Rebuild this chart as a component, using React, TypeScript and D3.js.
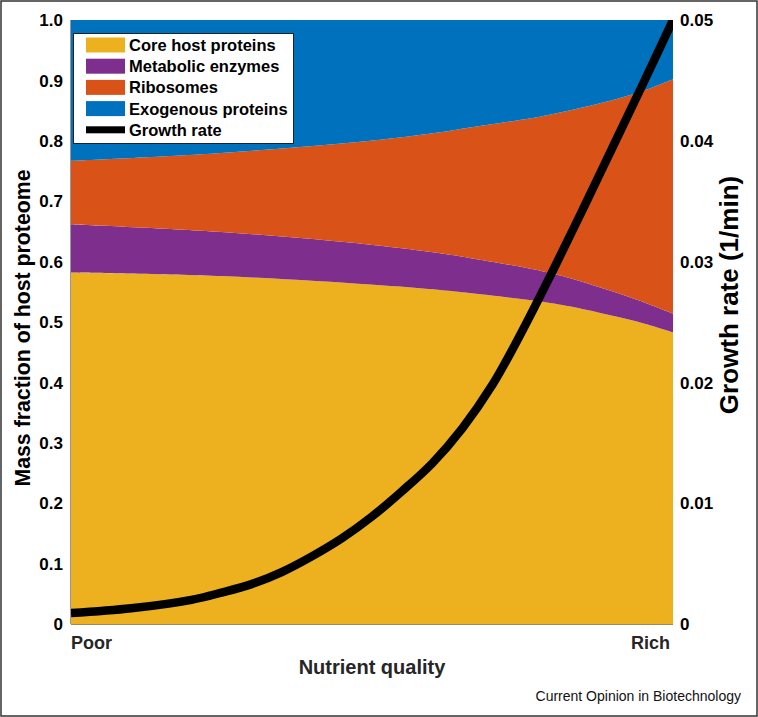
import React from "react";
import * as d3 from "d3";

// Nutrient quality, 0 = Poor, 1 = Rich
const coreX = [0, 0.25, 0.497, 0.613, 0.662, 0.779, 0.828, 0.879, 0.94, 1];
const coreTop = [0.582, 0.576, 0.562, 0.553, 0.548, 0.534, 0.526, 0.515, 0.501, 0.483];
const metabolicTop = [0.662, 0.649, 0.628, 0.614, 0.606, 0.585, 0.573, 0.557, 0.537, 0.514];
const ribosomeTop = [0.767, 0.78, 0.8, 0.814, 0.822, 0.84, 0.85, 0.862, 0.879, 0.902];
const exogenousTop = [1, 1, 1, 1, 1, 1, 1, 1, 1, 1];

const growthX = [0, 0.1, 0.2, 0.25, 0.3, 0.35, 0.4, 0.45, 0.5, 0.55, 0.6, 0.65, 0.7, 0.75, 0.8, 0.85, 0.9, 0.95, 1];
const growthRate = [0.0009, 0.0013, 0.002, 0.0026, 0.0033, 0.0043, 0.0056, 0.0071, 0.0089, 0.011, 0.0133, 0.0162, 0.0198, 0.0243, 0.0292, 0.0343, 0.0395, 0.0447, 0.05];

const leftTicks = [0, 0.1, 0.2, 0.3, 0.4, 0.5, 0.6, 0.7, 0.8, 0.9, 1.0];
const leftTickLabels = ["0", "0.1", "0.2", "0.3", "0.4", "0.5", "0.6", "0.7", "0.8", "0.9", "1.0"];
const rightTicks = [0, 0.01, 0.02, 0.03, 0.04, 0.05];
const rightTickLabels = ["0", "0.01", "0.02", "0.03", "0.04", "0.05"];

const seriesNames = ["Core host proteins", "Metabolic enzymes", "Ribosomes", "Exogenous proteins"];
const seriesColors = ["#EDB120", "#7E2F8E", "#D95319", "#0072BD"];

const W = 758;
const H = 717;
const PL = 71, PR = 673, PT = 20, PB = 624;
const FONT = "'Liberation Sans', Arial, Helvetica, sans-serif";

export default function App() {
  const x = d3.scaleLinear().domain([0, 1]).range([PL, PR]);
  const yL = d3.scaleLinear().domain([0, 1]).range([PB, PT]);
  const yR = d3.scaleLinear().domain([0, 0.05]).range([PB, PT]);

  const tops = [coreTop, metabolicTop, ribosomeTop, exogenousTop];
  const bottoms = [coreX.map(() => 0), coreTop, metabolicTop, ribosomeTop];

  const areas = tops.map((top, s) => {
    const pts = coreX.map((xv, i) => ({ x: xv, y0: bottoms[s][i], y1: top[i] }));
    return d3
      .area<{ x: number; y0: number; y1: number }>()
      .x((d) => x(d.x))
      .y0((d) => yL(d.y0))
      .y1((d) => yL(d.y1))
      .curve(d3.curveCatmullRom.alpha(0.5))(pts) as string;
  });

  const growthPath = d3
    .line<number>()
    .x((_, i) => x(growthX[i]))
    .y((d) => yR(d))
    .curve(d3.curveCatmullRom.alpha(0.5))(growthRate) as string;

  const legendRows = [...seriesNames, "Growth rate"];

  return (
    <svg
      width={W}
      height={H}
      style={{ position: "absolute", left: 0, top: 0, background: "#fff" }}
      fontFamily={FONT}
    >
      <rect x={0} y={0} width={W} height={H} fill="#fff" />
      <defs>
        <clipPath id="plotclip">
          <rect x={PL} y={PT} width={PR - PL} height={PB - PT} />
        </clipPath>
      </defs>
      {areas.map((d, i) => (
        <path key={i} d={d} fill={seriesColors[i]} />
      ))}
      <line x1={PL} x2={PR} y1={PB + 0.5} y2={PB + 0.5} stroke="#9a8a60" strokeWidth={1} />
      <line x1={PL - 0.5} x2={PL - 0.5} y1={PT} y2={PB} stroke="#999" strokeWidth={1} />
      <path
        d={growthPath}
        fill="none"
        stroke="#000"
        strokeWidth={8.5}
        clipPath="url(#plotclip)"
      />

      {/* left ticks */}
      {leftTicks.map((t, i) => (
        <text
          key={"l" + i}
          x={63}
          y={yL(t)}
          dy="0.36em"
          textAnchor="end"
          fontSize={17}
          fontWeight="bold"
          fill="#000"
        >
          {leftTickLabels[i]}
        </text>
      ))}
      {/* right ticks */}
      {rightTicks.map((t, i) => (
        <text
          key={"r" + i}
          x={680}
          y={yR(t)}
          dy="0.36em"
          textAnchor="start"
          fontSize={17}
          fontWeight="bold"
          fill="#000"
        >
          {rightTickLabels[i]}
        </text>
      ))}

      <text
        transform={`translate(30, ${(PT + PB) / 2 + 6}) rotate(-90)`}
        textAnchor="middle"
        fontSize={21.3}
        fontWeight="bold"
        fill="#000"
      >
        Mass fraction of host proteome
      </text>
      <text
        transform={`translate(738, 295) rotate(-90)`}
        textAnchor="middle"
        fontSize={26}
        fontWeight="bold"
        fill="#000"
      >
        Growth rate (1/min)
      </text>

      <text x={PL} y={649} fontSize={18} fontWeight="bold" fill="#262626">
        Poor
      </text>
      <text x={PR - 3} y={649} fontSize={18} fontWeight="bold" fill="#262626" textAnchor="end">
        Rich
      </text>
      <text x={(PL + PR) / 2} y={674} fontSize={20} fontWeight="bold" fill="#262626" textAnchor="middle">
        Nutrient quality
      </text>

      {/* legend */}
      <rect x={73.5} y={33.5} width={220} height={110} fill="#fff" stroke="#222" strokeWidth={1} />
      {legendRows.map((name, i) => {
        const cy = 45 + i * 21.2;
        return (
          <g key={name}>
            {i < 4 ? (
              <rect x={86} y={cy - 7.5} width={39} height={15} fill={seriesColors[i]} />
            ) : (
              <rect x={86} y={cy - 3.5} width={39} height={7} fill="#000" />
            )}
            <text x={129} y={cy} dy="0.36em" fontSize={16.5} fontWeight="bold" fill="#000">
              {name}
            </text>
          </g>
        );
      })}

      <text x={741} y={701} fontSize={14} fill="#111" textAnchor="end">
        Current Opinion in Biotechnology
      </text>
      <rect x={1} y={1} width={W - 2} height={H - 2} fill="none" stroke="#333" strokeWidth={1.5} />
    </svg>
  );
}
